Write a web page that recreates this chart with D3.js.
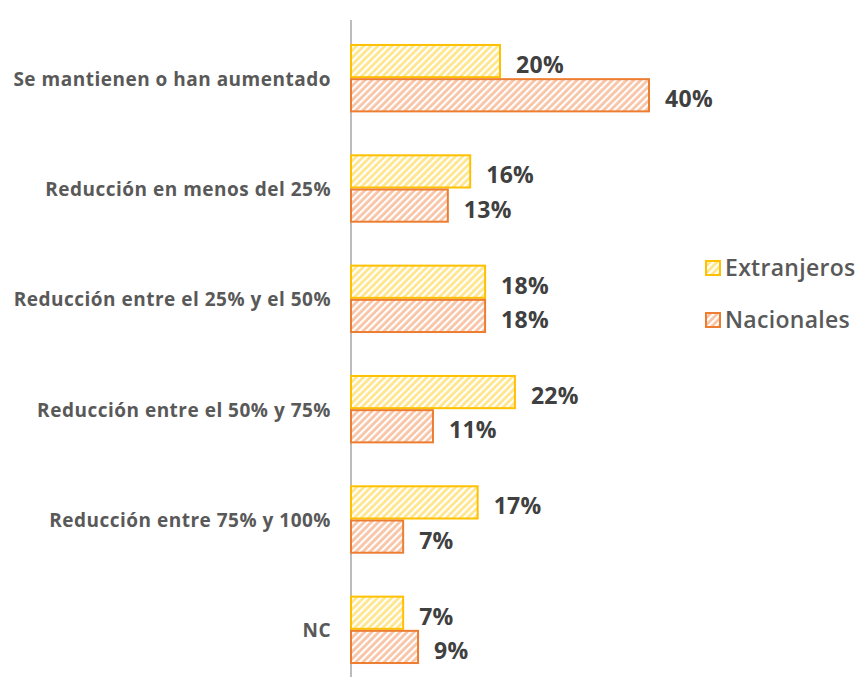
<!DOCTYPE html>
<html>
<head>
<meta charset="utf-8">
<script src="https://cdn.jsdelivr.net/npm/d3@7"></script>
<style>
  body { margin: 0; background: #fff; }
  text { font-family: "Open Sans", "Noto Sans", sans-serif; }
</style>
</head>
<body>
<svg width="860" height="677"></svg>
<script>
const categories = ["Se mantienen o han aumentado", "Reducción en menos del 25%", "Reducción entre el 25% y el 50%",
                    "Reducción entre el 50% y 75%", "Reducción entre 75% y 100%", "NC"];
const seriesNames = ["Extranjeros", "Nacionales"];
const extranjeros = [20, 16, 18, 22, 17, 7];
const nacionales = [40, 13, 18, 11, 7, 9];

const colors = {Extranjeros: "#FFC000", Nacionales: "#ED7D31"};
const tints = {Extranjeros: "#FFE68C", Nacionales: "#F8C4A6"};

const svg = d3.select("svg");
const axisX = 351;

// hatch patterns (tint with white diagonal stripes)
const defs = svg.append("defs");
seriesNames.forEach((s, i) => {
    const p = defs.append("pattern")
        .attr("id", "hatch" + i)
        .attr("patternUnits", "userSpaceOnUse")
        .attr("width", 5).attr("height", 5)
        .attr("patternTransform", "rotate(45)");
    p.append("rect").attr("width", 5).attr("height", 5).attr("fill", tints[s]);
    p.append("rect").attr("width", 2.2).attr("height", 5).attr("fill", "#fff");
});

const data = categories.map((c, i) => ({cat: c, values: [extranjeros[i], nacionales[i]]}));

const x = d3.scaleLinear()
    .domain([0, 40])
    .range([axisX, 649]);

const y = d3.scaleBand()
    .domain(categories)
    .range([23, 685])
    .paddingInner(0.38)
    .paddingOuter(0.19);

const y1 = d3.scaleBand()
    .domain(seriesNames)
    .range([0, y.bandwidth()]);

// axis line
svg.append("line")
    .attr("x1", axisX).attr("x2", axisX)
    .attr("y1", 20).attr("y2", 677)
    .attr("stroke", "#A6A6A6").attr("stroke-width", 1.5);

const groups = svg.selectAll(".grp").data(data).enter().append("g")
    .attr("class", "grp")
    .attr("transform", d => `translate(0, ${y(d.cat)})`);

groups.selectAll("rect")
    .data(d => d.values.map((v, i) => ({s: seriesNames[i], i: i, v: v})))
    .enter().append("rect")
    .attr("x", x(0))
    .attr("y", d => y1(d.s) + 1)
    .attr("width", d => x(d.v) - x(0))
    .attr("height", y1.bandwidth() - 2)
    .attr("fill", d => `url(#hatch${d.i})`)
    .attr("stroke", d => colors[d.s])
    .attr("stroke-width", 2);

groups.selectAll(".val")
    .data(d => d.values.map((v, i) => ({s: seriesNames[i], v: v})))
    .enter().append("text")
    .attr("class", "val")
    .attr("x", d => x(d.v) + 16)
    .attr("y", d => y1(d.s) + y1.bandwidth() / 2 + 4)
    .attr("dy", "0.35em")
    .attr("font-size", "23px")
    .attr("font-weight", "bold")
    .attr("letter-spacing", "0.3px")
    .attr("fill", "#404040")
    .text(d => d.v + "%");

// category labels
svg.selectAll(".cat").data(categories).enter().append("text")
    .attr("class", "cat")
    .attr("x", 331)
    .attr("y", d => y(d) + y.bandwidth() / 2 + 1)
    .attr("dy", "0.35em")
    .attr("text-anchor", "end")
    .attr("font-size", "19px")
    .attr("font-weight", "bold")
    .attr("letter-spacing", "0.5px")
    .attr("fill", "#595959")
    .text(d => d);

// legend
const legend = svg.selectAll(".leg").data(seriesNames).enter().append("g")
    .attr("class", "leg")
    .attr("transform", (d, i) => `translate(706, ${268 + i * 52})`);

legend.append("rect")
    .attr("x", 0).attr("y", -7)
    .attr("width", 14).attr("height", 14)
    .attr("fill", (d, i) => `url(#hatch${i})`)
    .attr("stroke", d => colors[d])
    .attr("stroke-width", 2);

legend.append("text")
    .attr("x", 19)
    .attr("y", 0)
    .attr("dy", "0.35em")
    .attr("font-size", "23px")
    .attr("fill", "#595959")
    .attr("font-weight", 600)
    .attr("letter-spacing", "0.3px")
    .text(d => d);
</script>
</body>
</html>
